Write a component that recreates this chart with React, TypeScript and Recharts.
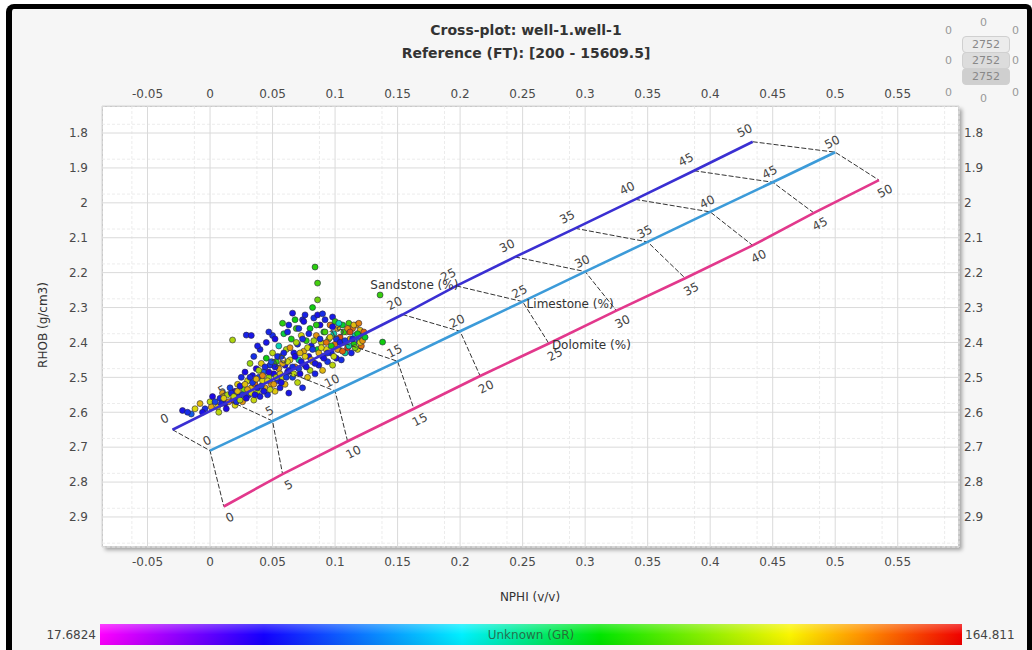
import React from "react";
import {
	CartesianGrid,
	Scatter,
	ScatterChart,
	XAxis,
	YAxis,
} from "recharts";

// axis ticks
const xTicks = [-0.05, 0, 0.05, 0.1, 0.15, 0.2, 0.25, 0.3, 0.35, 0.4, 0.45, 0.5, 0.55];
const yTicks = [1.8, 1.9, 2, 2.1, 2.2, 2.3, 2.4, 2.5, 2.6, 2.7, 2.8, 2.9];
const X_DOMAIN: [number, number] = [-0.0864, 0.599];
const Y_DOMAIN: [number, number] = [1.7226, 2.986];

// lithology overlay (porosity %, NPHI v/v, RHOB g/cm3)
const porosity = [0, 5, 10, 15, 20, 25, 30, 35, 40, 45, 50];
const sandstoneNphi = [-0.03, 0.016, 0.062, 0.108, 0.154, 0.197, 0.244, 0.292, 0.34, 0.387, 0.434];
const sandstoneRhob = [2.65, 2.568, 2.485, 2.403, 2.32, 2.238, 2.155, 2.073, 1.99, 1.908, 1.825];
const limestoneNphi = [0, 0.05, 0.1, 0.15, 0.2, 0.25, 0.3, 0.35, 0.4, 0.45, 0.5];
const limestoneRhob = [2.71, 2.625, 2.539, 2.454, 2.368, 2.283, 2.197, 2.112, 2.026, 1.941, 1.855];
const dolomiteNphi = [0.011, 0.058, 0.11, 0.163, 0.216, 0.271, 0.325, 0.38, 0.434, 0.483, 0.535];
const dolomiteRhob = [2.87, 2.777, 2.683, 2.59, 2.496, 2.403, 2.309, 2.216, 2.122, 2.029, 1.935];

// log samples: [NPHI, RHOB, GR]
const logPoints: [number, number, number][] = [
	[-0.022, 2.595, 48], [-0.015, 2.605, 60], [-0.008, 2.575, 140], [-0.004, 2.59, 52], [0.0, 2.57, 130], [0.002, 2.555, 45],
	[0.006, 2.585, 138], [0.008, 2.56, 50], [0.01, 2.545, 142], [0.012, 2.575, 47], [0.014, 2.55, 128], [0.016, 2.53, 55],
	[0.018, 2.565, 150], [0.018, 2.393, 128], [0.02, 2.54, 44], [0.02, 2.58, 135],
	[0.022, 2.52, 137], [0.023, 2.555, 49], [0.025, 2.5, 51], [0.026, 2.57, 145], [0.027, 2.535, 120], [0.028, 2.485, 46],
	[0.029, 2.379, 50], [0.033, 2.38, 48], [0.03, 2.51, 133], [0.031, 2.55, 53], [0.032, 2.46, 125], [0.033, 2.53, 140],
	[0.034, 2.495, 47], [0.035, 2.565, 132], [0.035, 2.44, 52],
	[0.036, 2.52, 150], [0.037, 2.475, 45], [0.038, 2.54, 128], [0.039, 2.5, 55], [0.04, 2.42, 50], [0.04, 2.555, 49],
	[0.041, 2.46, 138], [0.042, 2.51, 135], [0.043, 2.485, 60], [0.044, 2.53, 142], [0.045, 2.445, 104], [0.045, 2.4, 48],
	[0.046, 2.55, 51], [0.047, 2.5, 126], [0.048, 2.465, 53], [0.049, 2.52, 146], [0.05, 2.43, 130], [0.05, 2.38, 52],
	[0.051, 2.49, 46], [0.052, 2.54, 138], [0.053, 2.455, 110], [0.054, 2.51, 50], [0.055, 2.41, 85], [0.055, 2.475, 144],
	[0.056, 2.53, 49], [0.057, 2.44, 54], [0.058, 2.5, 132], [0.059, 2.375, 98], [0.06, 2.465, 47], [0.06, 2.52, 140],
	[0.061, 2.42, 128], [0.062, 2.485, 52], [0.063, 2.35, 50], [0.063, 2.545, 48], [0.064, 2.45, 136], [0.065, 2.39, 105],
	[0.066, 2.5, 55], [0.066, 2.316, 48], [0.067, 2.43, 48], [0.068, 2.47, 148], [0.069, 2.36, 110], [0.07, 2.515, 130],
	[0.07, 2.405, 52], [0.071, 2.45, 90], [0.072, 2.49, 46], [0.073, 2.38, 134], [0.074, 2.335, 50], [0.074, 2.53, 51],
	[0.075, 2.425, 142], [0.076, 2.465, 53], [0.076, 2.321, 50], [0.077, 2.395, 108], [0.078, 2.5, 139], [0.079, 2.44, 47],
	[0.08, 2.36, 102], [0.08, 2.48, 128],
	[0.084, 2.184, 108], [0.086, 2.23, 112], [0.086, 2.278, 118], [0.082, 2.3, 104],
	[0.081, 2.41, 49], [0.082, 2.455, 135], [0.083, 2.33, 52], [0.084, 2.49, 50], [0.085, 2.38, 145], [0.086, 2.42, 100],
	[0.086, 2.321, 47], [0.087, 2.465, 48], [0.088, 2.35, 46], [0.089, 2.4, 132], [0.09, 2.44, 55], [0.09, 2.48, 140],
	[0.09, 2.318, 52], [0.091, 2.37, 104], [0.092, 2.335, 50], [0.093, 2.42, 136], [0.094, 2.455, 53], [0.095, 2.39, 118],
	[0.096, 2.35, 148], [0.097, 2.43, 50], [0.098, 2.465, 130], [0.098, 2.327, 49], [0.099, 2.375, 86], [0.1, 2.405, 150],
	[0.1, 2.34, 108], [0.101, 2.445, 47], [0.102, 2.36, 140], [0.103, 2.42, 125], [0.104, 2.385, 155], [0.105, 2.45, 52],
	[0.106, 2.35, 100], [0.107, 2.4, 145], [0.108, 2.43, 88], [0.109, 2.37, 138], [0.11, 2.415, 158],
	[0.111, 2.345, 112], [0.112, 2.39, 142], [0.113, 2.43, 50], [0.114, 2.36, 150], [0.115, 2.405, 106], [0.116, 2.38, 85],
	[0.117, 2.35, 145], [0.118, 2.42, 132], [0.119, 2.395, 60], [0.12, 2.365, 140], [0.121, 2.41, 150], [0.122, 2.38, 110],
	[0.136, 2.264, 110], [0.138, 2.399, 104],
	[-0.018, 2.6, 52], [-0.012, 2.59, 135], [-0.006, 2.6, 47], [0.001, 2.585, 142], [0.004, 2.57, 55], [0.007, 2.6, 130],
	[0.009, 2.575, 49], [0.011, 2.56, 137], [0.013, 2.59, 45], [0.015, 2.57, 146], [0.017, 2.545, 50], [0.019, 2.555, 131],
	[0.021, 2.57, 52], [0.022, 2.54, 140], [0.024, 2.525, 48], [0.024, 2.565, 128], [0.026, 2.55, 55], [0.028, 2.52, 139],
	[0.029, 2.56, 46], [0.03, 2.535, 143], [0.032, 2.5, 50], [0.033, 2.545, 133], [0.034, 2.515, 53], [0.036, 2.55, 47],
	[0.037, 2.505, 141], [0.038, 2.53, 49], [0.039, 2.48, 127], [0.041, 2.525, 54], [0.042, 2.495, 147], [0.043, 2.54, 48],
	[0.044, 2.47, 51], [0.046, 2.51, 136], [0.047, 2.485, 45], [0.048, 2.535, 131], [0.049, 2.455, 57], [0.051, 2.52, 144],
	[0.052, 2.47, 49], [0.053, 2.5, 129], [0.054, 2.44, 52], [0.056, 2.49, 138], [0.057, 2.515, 47], [0.058, 2.46, 142],
	[0.059, 2.43, 50], [0.061, 2.5, 53], [0.062, 2.455, 134], [0.063, 2.48, 48], [0.064, 2.415, 145], [0.066, 2.47, 51],
	[0.067, 2.49, 130], [0.068, 2.44, 46], [0.069, 2.4, 128], [0.071, 2.475, 55], [0.072, 2.43, 140], [0.073, 2.455, 49],
	[0.074, 2.39, 52], [0.076, 2.44, 137], [0.077, 2.47, 47], [0.078, 2.415, 133], [0.079, 2.375, 50], [0.081, 2.45, 143],
	[0.082, 2.42, 54], [0.083, 2.395, 126], [0.084, 2.46, 48], [0.085, 2.35, 108], [0.087, 2.43, 141], [0.088, 2.39, 52],
	[0.089, 2.415, 135], [0.091, 2.445, 47], [0.092, 2.37, 112], [0.093, 2.4, 150], [0.094, 2.43, 51], [0.096, 2.385, 138],
	[0.097, 2.41, 106], [0.098, 2.355, 47], [0.099, 2.44, 132], [0.101, 2.39, 52], [0.102, 2.42, 144], [0.103, 2.345, 84],
	[0.104, 2.4, 49], [0.106, 2.425, 152], [0.107, 2.37, 110], [0.108, 2.395, 53], [0.11, 2.36, 147], [0.111, 2.41, 88],
	[0.112, 2.37, 155], [0.114, 2.39, 50], [0.115, 2.35, 140], [0.116, 2.415, 120], [0.118, 2.375, 102], [0.119, 2.345, 148],
	[0.12, 2.4, 135], [0.122, 2.395, 145], [0.123, 2.37, 152], [0.124, 2.385, 100],
	[0.038, 2.41, 49], [0.047, 2.37, 51], [0.052, 2.39, 46], [0.058, 2.345, 108], [0.062, 2.37, 50], [0.068, 2.335, 104],
	[0.071, 2.36, 53], [0.075, 2.34, 47],
];

const GR_MIN = 17.6824;
const GR_MAX = 164.811;
const grStops: [number, number[]][] = [
	[0, [255, 0, 255]],
	[0.19, [20, 0, 255]],
	[0.42, [0, 240, 255]],
	[0.58, [0, 230, 0]],
	[0.8, [250, 245, 0]],
	[0.88, [255, 150, 0]],
	[1, [240, 0, 0]],
];

// shade < 1 darkens toward a slate tone (markers look muted in the original)
function grColor(gr: number, shade = 1) {
	const t = Math.min(1, Math.max(0, (gr - GR_MIN) / (GR_MAX - GR_MIN)));
	const dark = [60, 50, 90];
	for (let i = 1; i < grStops.length; i++) {
		const [t1, c1] = grStops[i];
		const [t0, c0] = grStops[i - 1];
		if (t <= t1) {
			const f = (t - t0) / (t1 - t0);
			const c = c0.map((v, k) => Math.round((v + (c1[k] - v) * f) * shade + dark[k] * (1 - shade)));
			return `rgb(${c[0]},${c[1]},${c[2]})`;
		}
	}
	return "rgb(240,0,0)";
}

// minor grid (quarter steps)
const minorX: number[] = [];
[-0.1, ...xTicks].forEach((t) => {
	for (let k = 1; k < 4; k++) minorX.push(+(t + k * 0.0125).toFixed(4));
});
const minorY: number[] = [];
[1.7, ...yTicks].forEach((t) => {
	for (let k = 1; k < 4; k++) minorY.push(+(t + k * 0.025).toFixed(3));
});

const PLOT = { left: 102, top: 106, right: 959, bottom: 547 };
const W = 1032;
const H = 650;
const FONT = "'DejaVu Sans', Verdana, sans-serif";
const tickStyle = { fontSize: 12, fill: "#4a4a4a", fontFamily: FONT };

const lithologies = [
	{ name: "Sandstone (%)", nphi: sandstoneNphi, rhob: sandstoneRhob, color: "#3a2fd2", dx: -8, dy: -11, nameDx: 2, nameDy: -1, anchor: "end" },
	{ name: "Limestone (%)", nphi: limestoneNphi, rhob: limestoneRhob, color: "#3c9bd9", dx: -3, dy: -10, nameDx: 4, nameDy: 2, anchor: "start" },
	{ name: "Dolomite (%)", nphi: dolomiteNphi, rhob: dolomiteRhob, color: "#e2388c", dx: 6, dy: 11, nameDx: 3, nameDy: 2, anchor: "start" },
];

const noShape = () => <g />;

export default function App() {
	const axisIds = { xAxisId: "bottom", yAxisId: "left" };
	return (
		<div style={{ position: "absolute", left: 0, top: 0, width: W, height: H, background: "#fff", overflow: "hidden", fontFamily: FONT }}>
			<div
				style={{
					position: "absolute",
					left: 6,
					top: 4,
					width: 1015,
					height: 680,
					borderLeft: "6px solid #000",
					borderTop: "5px solid #000",
					borderRight: "5px solid #000",
					borderTopLeftRadius: 8,
					borderTopRightRadius: 6,
					background: "#f6f6f6",
				}}
			/>
			<div style={{ position: "absolute", left: 0, width: 1052, top: 22, textAlign: "center", fontWeight: "bold", fontSize: 14, color: "#333" }}>
				Cross-plot: well-1.well-1
			</div>
			<div style={{ position: "absolute", left: 0, width: 1052, top: 45, textAlign: "center", fontWeight: "bold", fontSize: 14, color: "#333" }}>
				Reference (FT): [200 - 15609.5]
			</div>

			{/* top-right control */}
			{[
				[950, 32], [985, 24], [1017, 32], [950, 62], [1017, 62], [950, 94], [985, 100], [1017, 94],
			].map(([x, y], i) => (
				<div key={i} style={{ position: "absolute", left: x - 5, top: y - 8, fontSize: 11, color: "#999" }}>0</div>
			))}
			{[0, 1, 2].map((i) => (
				<div
					key={i}
					style={{
						position: "absolute",
						left: 962,
						top: 36 + i * 16,
						width: 46,
						height: 15,
						borderRadius: 4,
						background: i === 0 ? "#ececec" : i === 1 ? "#dcdcdc" : "#cfcfcf",
						border: "1px solid #d0d0d0",
						fontSize: 11,
						color: "#888",
						textAlign: "center",
						lineHeight: "15px",
					}}
				>
					2752
				</div>
			))}

			<div
				style={{
					position: "absolute",
					left: PLOT.left,
					top: PLOT.top,
					width: PLOT.right - PLOT.left,
					height: PLOT.bottom - PLOT.top,
					background: "#fff",
					boxSizing: "border-box",
					border: "1px solid #b8b8b8",
					boxShadow: "3px 3px 4px rgba(0,0,0,0.35)",
				}}
			/>

			<div style={{ position: "absolute", left: 0, top: 0 }}>
				<ScatterChart
					width={W}
					height={H}
					margin={{ left: PLOT.left - 50, right: W - PLOT.right - 50, top: PLOT.top - 30, bottom: H - PLOT.bottom - 30 }}
				>
					<XAxis xAxisId="minor" type="number" dataKey="x" domain={X_DOMAIN} allowDataOverflow ticks={minorX} hide />
					<YAxis yAxisId="minor" type="number" dataKey="y" domain={Y_DOMAIN} allowDataOverflow ticks={minorY} reversed hide />
					<CartesianGrid xAxisId="minor" yAxisId="minor" stroke="#ececec" strokeDasharray="3 2" />
					<CartesianGrid xAxisId="bottom" yAxisId="left" stroke="#dadada" />
					<XAxis
						xAxisId="bottom"
						orientation="bottom"
						type="number"
						dataKey="x"
						height={30}
						domain={X_DOMAIN}
						allowDataOverflow
						ticks={xTicks}
						interval={0}
						tickLine={false}
						axisLine={false}
						tickSize={0}
						tickMargin={10}
						tick={tickStyle}
					/>
					<XAxis
						xAxisId="top"
						orientation="top"
						type="number"
						dataKey="x"
						height={30}
						domain={X_DOMAIN}
						allowDataOverflow
						ticks={xTicks}
						interval={0}
						tickLine={false}
						axisLine={false}
						tickSize={0}
						tickMargin={8}
						tick={tickStyle}
					/>
					<YAxis
						yAxisId="left"
						orientation="left"
						type="number"
						dataKey="y"
						width={50}
						domain={Y_DOMAIN}
						allowDataOverflow
						reversed
						ticks={yTicks}
						interval={0}
						tickLine={false}
						axisLine={false}
						tickSize={0}
						tickMargin={14}
						tick={tickStyle}
					/>
					<YAxis
						yAxisId="right"
						orientation="right"
						type="number"
						dataKey="y"
						width={50}
						domain={Y_DOMAIN}
						allowDataOverflow
						reversed
						ticks={yTicks}
						interval={0}
						tickLine={false}
						axisLine={false}
						tickSize={0}
						tickMargin={5}
						tick={tickStyle}
					/>

					<Scatter
						{...axisIds}
						data={logPoints.map(([x, y, gr]) => ({ x, y, gr }))}
						isAnimationActive={false}
						shape={(p: any) => (
							<circle
								cx={p.cx}
								cy={p.cy}
								r={3}
								fill={grColor(p.payload.gr, 0.85)}
								stroke="#2a2540"
								strokeOpacity={0.75}
								strokeWidth={0.8}
							/>
						)}
					/>

					{porosity.map((p, i) => (
						<Scatter
							key={`tie-${p}`}
							{...axisIds}
							data={lithologies.map((l) => ({ x: l.nphi[i], y: l.rhob[i] }))}
							line={{ stroke: "#333", strokeWidth: 1, strokeDasharray: "5 2" }}
							shape={noShape}
							isAnimationActive={false}
						/>
					))}

					{lithologies.map((l) => (
						<Scatter
							key={`line-${l.name}`}
							{...axisIds}
							data={porosity.map((p, i) => ({ x: l.nphi[i], y: l.rhob[i] }))}
							line={{ stroke: l.color, strokeWidth: 2.6 }}
							shape={noShape}
							isAnimationActive={false}
						/>
					))}

					{lithologies.map((l) => (
						<Scatter
							key={`lab-${l.name}`}
							{...axisIds}
							data={porosity.map((p, i) => ({ x: l.nphi[i], y: l.rhob[i], label: p }))}
							isAnimationActive={false}
							shape={(pr: any) => {
								const x = pr.cx + l.dx;
								const y = pr.cy + l.dy;
								return (
									<text
										x={x}
										y={y}
										textAnchor="middle"
										dominantBaseline="central"
										transform={`rotate(-27 ${x} ${y})`}
										fontSize={12}
										fontFamily={FONT}
										fill="#444"
									>
										{pr.payload.label}
									</text>
								);
							}}
						/>
					))}

					{lithologies.map((l) => (
						<Scatter
							key={`name-${l.name}`}
							{...axisIds}
							data={[{ x: l.nphi[5], y: l.rhob[5] }]}
							isAnimationActive={false}
							shape={(pr: any) => (
								<text
									x={pr.cx + l.nameDx}
									y={pr.cy + l.nameDy}
									textAnchor={l.anchor as any}
									dominantBaseline="central"
									fontSize={12}
									fontFamily={FONT}
									fill="#333"
								>
									{l.name}
								</text>
							)}
						/>
					))}
				</ScatterChart>
			</div>

			<div style={{ position: "absolute", left: 0, width: 1060, top: 590, textAlign: "center", fontSize: 12, color: "#333" }}>NPHI (v/v)</div>
			<div
				style={{
					position: "absolute",
					left: 43,
					top: 325,
					fontSize: 12,
					color: "#333",
					whiteSpace: "nowrap",
					transform: "translate(-50%, -50%) rotate(-90deg)",
				}}
			>
				RHOB (g/cm3)
			</div>

			<div style={{ position: "absolute", left: 0, width: 96, top: 628, textAlign: "right", fontSize: 12, color: "#444" }}>17.6824</div>
			<div
				style={{
					position: "absolute",
					left: 100,
					top: 624,
					width: 862,
					height: 21,
					background:
						"linear-gradient(to bottom, rgba(255,255,255,0.25), rgba(255,255,255,0) 50%, rgba(0,0,0,0.05)), linear-gradient(to right, #ff00ff 0%, #1400ff 19%, #00f0ff 42%, #00e600 58%, #faf500 80%, #ff9600 88%, #f00000 100%)",
				}}
			/>
			<div style={{ position: "absolute", left: 100, width: 862, top: 628, textAlign: "center", fontSize: 12, color: "rgba(50,70,50,0.75)" }}>
				Unknown (GR)
			</div>
			<div style={{ position: "absolute", left: 965, top: 628, fontSize: 12, color: "#444" }}>164.811</div>
		</div>
	);
}
